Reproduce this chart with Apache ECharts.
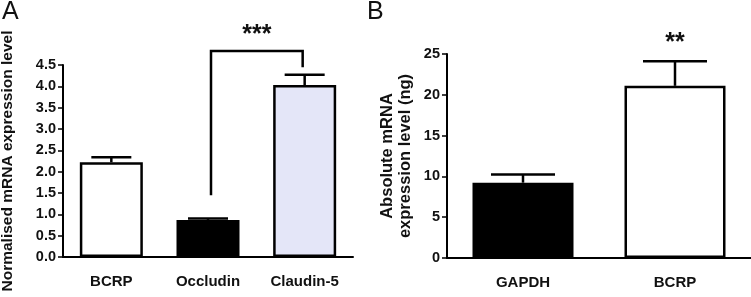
<!DOCTYPE html>
<html>
<head>
<meta charset="utf-8">
<script src="https://cdn.jsdelivr.net/npm/echarts@6/dist/echarts.min.js"></script>
<style>
  html, body { margin: 0; padding: 0; background: #fff; }
  #chart { width: 751px; height: 297px; }
</style>
</head>
<body>
<div id="chart"></div>
<script>
// panel A
const catsA = ['BCRP', 'Occludin', 'Claudin-5']
const meanA = [2.22, 0.87, 4.03]
const errA = [0.12, 0.03, 0.24]
const colorsA = ['#ffffff', '#000000', '#e4e6f8']
const ticksA = ['0.0', '0.5', '1.0', '1.5', '2.0', '2.5', '3.0', '3.5', '4.0', '4.5']
// bracket: [left cat, right cat, left foot, right foot, top]
const bracketA = [[1, 2, 1.45, 4.45, 4.83]]
const starsA = '***'
const starsAY = 5.2

// panel B
const catsB = ['GAPDH', 'BCRP']
const meanB = [9.23, 21.1]
const errB = [1.0, 3.0]
const colorsB = ['#000000', '#ffffff']
const starsB = '**'
const starsBY = 26.3

const FONT = '"Liberation Sans", Arial, sans-serif'

const errRender = capW => (params, api) => {
  const i = api.value(0)
  const base = api.coord([i, api.value(1)])
  const top = api.coord([i, api.value(2)])
  const st = { stroke: '#000', lineWidth: 2.5 }
  return {
    type: 'group',
    children: [
      { type: 'line', shape: { x1: base[0], y1: base[1], x2: top[0], y2: top[1] }, style: st },
      { type: 'line', shape: { x1: top[0] - capW / 2, y1: top[1], x2: top[0] + capW / 2, y2: top[1] }, style: st }
    ]
  }
}

const makeBars = (means, colors, gi, bw) => ({
  type: 'bar',
  xAxisIndex: gi,
  yAxisIndex: gi,
  barWidth: bw,
  data: means.map((v, i) => ({
    value: v,
    itemStyle: { color: colors[i], borderColor: '#000', borderWidth: 2.5 }
  })),
  z: 2
})

const makeErr = (means, errs, gi, capW) => ({
  type: 'custom',
  xAxisIndex: gi,
  yAxisIndex: gi,
  renderItem: errRender(capW),
  data: means.map((v, i) => [i, v, v + errs[i]]),
  z: 3,
  clip: false
})

const xAxisBase = (cats, gi) => ({
  type: 'category',
  gridIndex: gi,
  data: cats,
  axisLine: { lineStyle: { color: '#000', width: 2 } },
  axisTick: { alignWithLabel: true, length: 5, lineStyle: { color: '#000', width: 1.5 } },
  axisLabel: { color: '#111', fontWeight: 'bold', fontSize: 15, fontFamily: FONT, margin: 17 }
})

const yAxisBase = (gi, max, interval, nameSize) => ({
  type: 'value',
  gridIndex: gi,
  min: 0,
  max: max,
  interval: interval,
  splitLine: { show: false },
  axisLine: { show: true, lineStyle: { color: '#000', width: 2 } },
  axisTick: { show: true, length: 5, lineStyle: { color: '#000', width: 1.5 } },
  axisLabel: { color: '#111', fontWeight: 'bold', fontSize: 14.5, fontFamily: FONT, margin: 7 },
  nameLocation: 'middle',
  nameTextStyle: { color: '#111', fontWeight: 'bold', fontSize: nameSize, fontFamily: FONT, lineHeight: 18 }
})

const chart = echarts.init(document.getElementById('chart'))

const yA = yAxisBase(0, 4.5, 0.5, 15.5)
yA.axisLabel.formatter = v => ticksA[Math.round(v / 0.5)]
yA.name = 'Normalised mRNA expression level'
yA.nameGap = 46

const yB = yAxisBase(1, 25, 5, 16.5)
yB.name = 'Absolute mRNA\nexpression level (ng)'
yB.nameGap = 33

chart.setOption({
  animation: false,
  grid: [
    { left: 63, top: 65, width: 290, height: 192, outerBoundsMode: 'none' },
    { left: 447, top: 54, width: 304, height: 204, outerBoundsMode: 'none' }
  ],
  xAxis: [xAxisBase(catsA, 0), xAxisBase(catsB, 1)],
  yAxis: [yA, yB],
  graphic: [
    { type: 'text', left: 2, top: 0, style: { text: 'A', fontSize: 25, fontFamily: FONT, fill: '#111' } },
    { type: 'text', left: 367, top: 0, style: { text: 'B', fontSize: 25, fontFamily: FONT, fill: '#111' } }
  ],
  series: [
    makeBars(meanA, colorsA, 0, 63),
    makeErr(meanA, errA, 0, 40),
    {
      type: 'custom',
      xAxisIndex: 0,
      yAxisIndex: 0,
      clip: false,
      z: 4,
      data: bracketA,
      renderItem (params, api) {
        const l = api.coord([api.value(0), api.value(2)])
        const r = api.coord([api.value(1), api.value(3)])
        const t = api.coord([api.value(0), api.value(4)])[1]
        const xl = l[0] + 3
        const xr = r[0] - 2
        const s = api.coord([api.value(0), starsAY])[1]
        return {
          type: 'group',
          children: [
            { type: 'polyline', shape: { points: [[xl, l[1]], [xl, t], [xr, t], [xr, r[1]]] }, style: { stroke: '#000', lineWidth: 2.5, fill: null } },
            { type: 'text', style: { text: starsA, x: (xl + xr) / 2, y: s, align: 'center', verticalAlign: 'middle', fontSize: 25, fontWeight: 'bold', fontFamily: FONT, fill: '#111' } }
          ]
        }
      }
    },
    makeBars(meanB, colorsB, 1, 101),
    makeErr(meanB, errB, 1, 64),
    {
      type: 'custom',
      xAxisIndex: 1,
      yAxisIndex: 1,
      clip: false,
      z: 4,
      data: [[1, starsBY]],
      renderItem (params, api) {
        const p = api.coord([api.value(0), api.value(1)])
        return { type: 'text', style: { text: starsB, x: p[0], y: p[1], align: 'center', verticalAlign: 'middle', fontSize: 25, fontWeight: 'bold', fontFamily: FONT, fill: '#111' } }
      }
    }
  ]
})
</script>
</body>
</html>
